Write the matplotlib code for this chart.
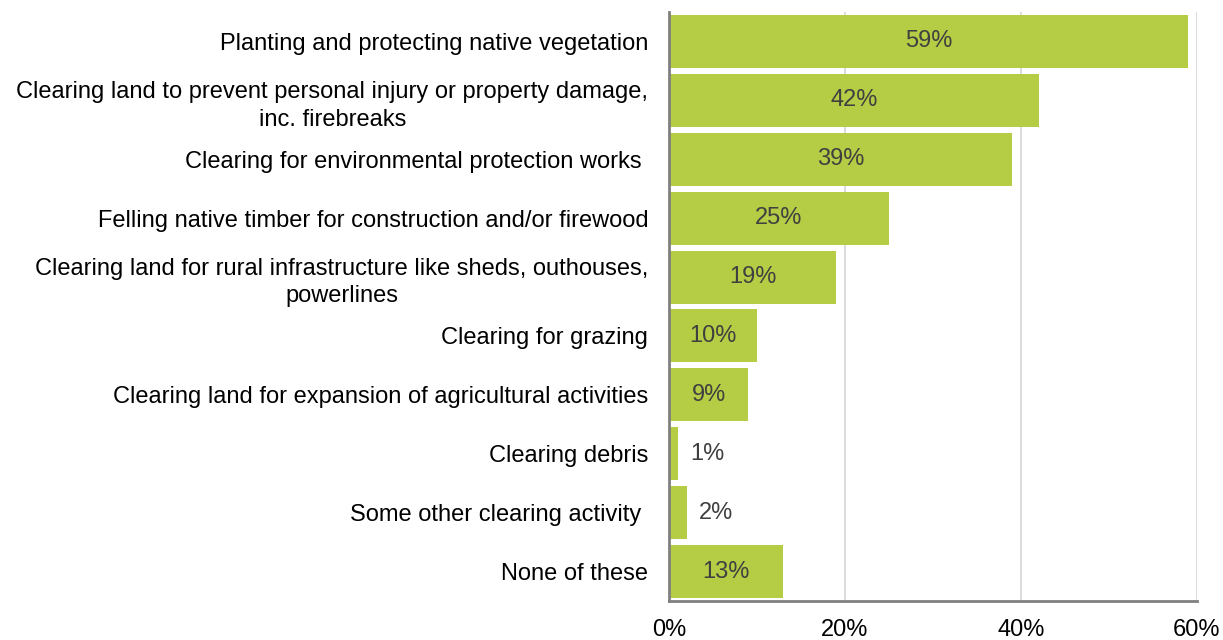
import matplotlib.pyplot as plt

plt.rcParams['font.family'] = ['Liberation Sans', 'DejaVu Sans']

# Share of respondents for each clearing activity
activities = [
    'Planting and protecting native vegetation',
    'Clearing land to prevent personal injury or property damage,\ninc. firebreaks',
    'Clearing for environmental protection works ',
    'Felling native timber for construction and/or firewood',
    'Clearing land for rural infrastructure like sheds, outhouses,\npowerlines',
    'Clearing for grazing',
    'Clearing land for expansion of agricultural activities',
    'Clearing debris',
    'Some other clearing activity ',
    'None of these',
]
shares = [59, 42, 39, 25, 19, 10, 9, 1, 2, 13]
x_ticks = [0, 20, 40, 60]

bar_color = '#b5cc45'
label_color = '#404040'
fs = 17

fig = plt.figure(figsize=(12.23, 6.4), dpi=100)
ax = fig.add_axes([669 / 1223, 1 - 601 / 640, (1197 - 669) / 1223, (601 - 12) / 640])

pos = list(range(len(shares)))
ax.barh(pos, shares, height=0.9, color=bar_color, zorder=2)

# value labels: inside the bar, or just past it when the bar is too short
for y, v in zip(pos, shares):
    if v >= 5:
        ax.text(v / 2, y, f'{v}%', ha='center', va='center',
                fontsize=fs, color=label_color, zorder=3)
    else:
        ax.annotate(f'{v}%', (v, y), xytext=(9, 0), textcoords='offset points',
                    ha='left', va='center', fontsize=fs, color=label_color)

ax.set_xlim(0, 60)
ax.set_ylim(len(shares) - 0.5, -0.5)
ax.set_yticks(pos)
ax.set_yticklabels(activities, fontsize=fs, color='black',
                   multialignment='center', linespacing=1.35)
ax.set_xticks(x_ticks)
ax.set_xticklabels([f'{t}%' for t in x_ticks], fontsize=fs, color='black')
ax.tick_params(axis='both', length=0)
ax.tick_params(axis='y', pad=15)
ax.tick_params(axis='x', pad=13)

ax.grid(axis='x', color='#d4d4d4', linewidth=1.2, zorder=0)
ax.set_axisbelow(True)
for side in ['top', 'right']:
    ax.spines[side].set_visible(False)
ax.spines['left'].set_color('#808080')
ax.spines['left'].set_linewidth(2)
ax.spines['left'].set_zorder(4)
ax.spines['bottom'].set_color('#808080')
ax.spines['bottom'].set_linewidth(2)

fig.savefig('out.png', dpi=100)
